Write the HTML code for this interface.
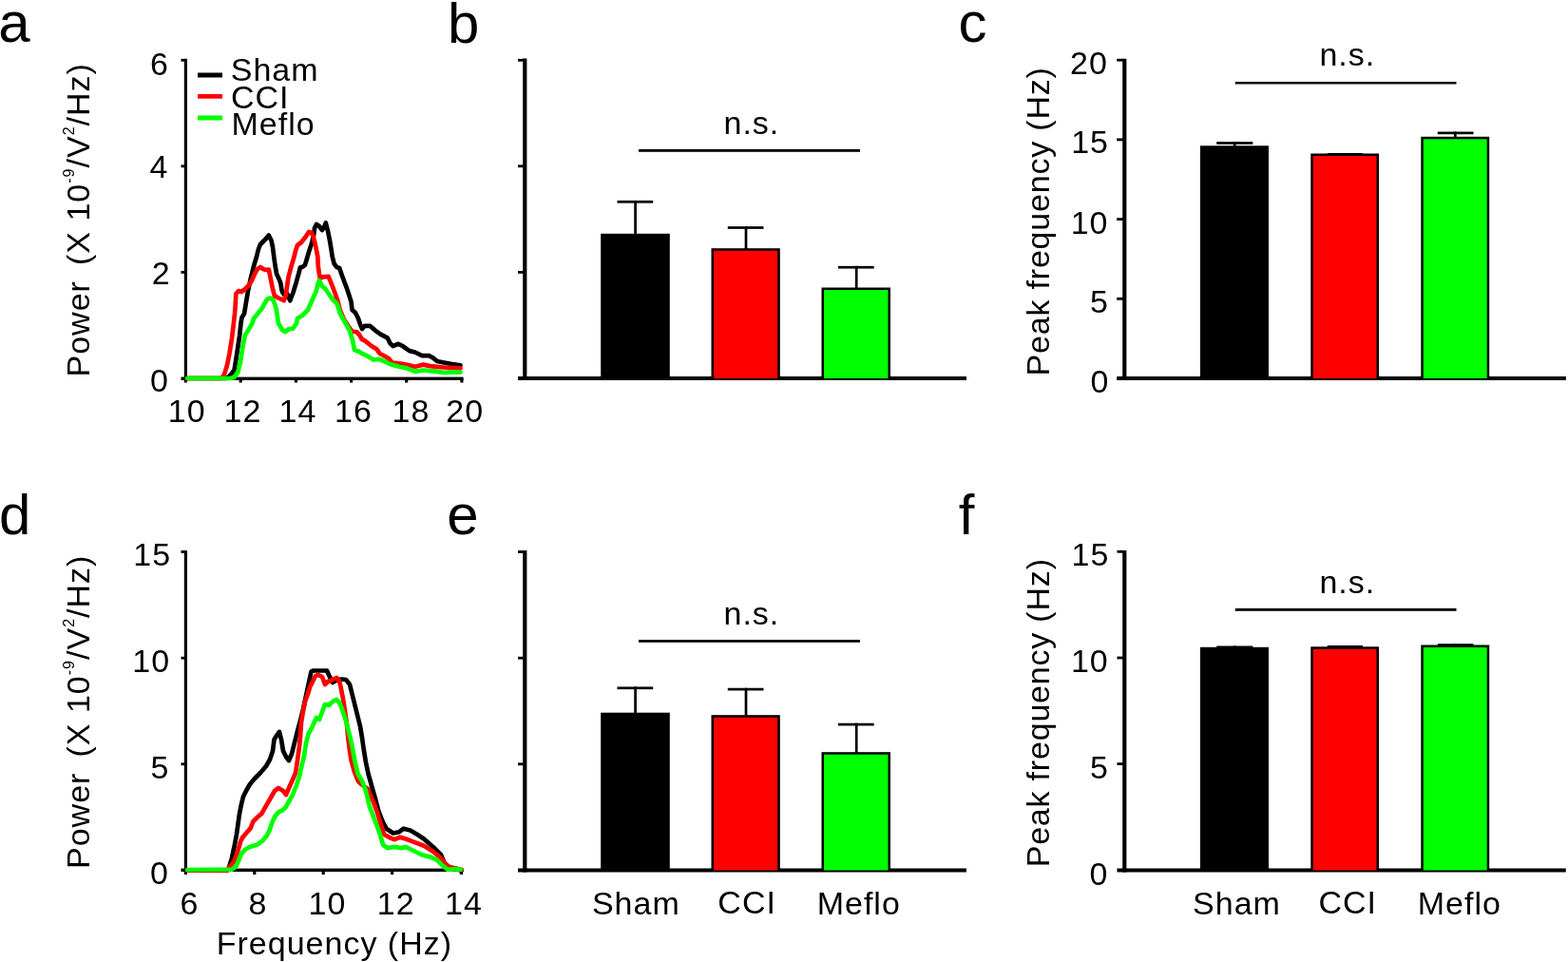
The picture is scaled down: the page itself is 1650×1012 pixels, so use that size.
<!DOCTYPE html>
<html><head><meta charset="utf-8"><title>Figure</title><style>html,body{margin:0;padding:0;background:#fff;overflow:hidden}svg{display:block}</style></head><body>
<svg width="1650" height="1012" viewBox="0 0 1650 1012" font-family="'Liberation Sans', Arial, Helvetica, sans-serif" fill="#000"><rect width="1650" height="1012" fill="#fff"/>
<rect x="193.8" y="61.8" width="3.2" height="340.7" fill="#000"/>
<rect x="190.5" y="61.9" width="4.5" height="2.8" fill="#000"/>
<rect x="190.5" y="173.4" width="4.5" height="2.8" fill="#000"/>
<rect x="190.5" y="285" width="4.5" height="2.8" fill="#000"/>
<rect x="190.5" y="396.6" width="297.1" height="3.3" fill="#000"/>
<rect x="251.6" y="398" width="3.2" height="4.5" fill="#000"/>
<rect x="309.8" y="398" width="3.2" height="4.5" fill="#000"/>
<rect x="368" y="398" width="3.2" height="4.5" fill="#000"/>
<rect x="426.1" y="398" width="3.2" height="4.5" fill="#000"/>
<rect x="484.3" y="398" width="3.2" height="4.5" fill="#000"/>
<rect x="208" y="76.5" width="26" height="5" fill="#000"/>
<rect x="208" y="99" width="26" height="4.7" fill="#f00"/>
<rect x="208" y="121.5" width="26" height="5" fill="#0f0"/>
<polyline points="197.0,398.0 238.0,398.0 241.5,395.6 246.5,389.3 248.4,377.9 250.3,365.3 252.2,352.6 253.5,340.0 254.5,334.0 257.0,330.0 259.0,318.0 261.0,306.0 264.0,292.0 267.0,280.0 270.0,270.0 272.0,262.0 274.0,257.0 277.0,254.0 280.0,251.0 282.8,247.5 285.5,253.0 287.0,260.0 288.5,272.0 289.5,279.0 291.0,287.9 293.8,293.9 295.4,298.3 296.5,305.3 297.6,308.0 300.0,311.0 302.5,309.5 305.2,316.2 308.4,308.0 311.7,297.2 314.4,287.4 315.9,281.4 318.9,280.4 320.9,278.9 322.4,274.0 325.0,265.0 328.0,256.0 330.0,248.0 331.0,240.0 333.0,236.0 336.0,238.0 339.0,242.0 341.0,239.0 342.8,234.5 345.0,243.0 347.0,253.0 349.0,265.0 349.7,270.0 351.7,277.5 354.2,280.9 357.2,281.9 359.6,288.9 362.1,295.8 364.6,302.3 367.1,309.8 369.6,317.7 370.5,326.0 374.0,329.0 377.0,335.0 379.0,341.0 381.0,346.0 383.6,342.9 389.5,342.9 394.5,347.3 400.4,351.6 407.6,355.3 410.5,361.1 413.5,364.0 419.3,361.8 423.6,364.0 430.9,369.1 436.7,370.5 444.0,374.2 451.3,374.2 455.6,376.4 460.0,380.0 467.3,381.5 474.5,382.9 484.5,384.4" fill="none" stroke="#000" stroke-width="4.7" stroke-linejoin="round" stroke-linecap="round"/>
<polyline points="197.0,398.0 233.0,398.0 235.8,394.4 239.0,384.2 241.5,371.6 244.0,355.8 245.9,340.0 247.0,330.0 247.8,320.0 248.3,309.0 251.0,306.0 254.0,307.0 258.0,304.0 262.0,300.0 265.0,295.0 268.0,288.0 271.0,283.0 274.0,281.0 277.0,283.0 280.0,284.0 282.9,283.6 284.5,291.7 286.7,302.6 288.9,311.3 293.2,313.5 298.7,316.2 300.8,310.8 301.9,302.6 303.5,291.7 306.3,280.9 309.5,270.0 311.0,264.0 313.0,258.0 317.0,255.0 321.0,250.0 325.0,244.0 328.0,245.0 330.0,250.0 332.0,258.0 334.3,270.0 334.8,280.0 335.8,287.4 336.8,292.9 339.8,291.4 345.7,290.9 347.7,295.8 349.7,300.8 352.7,308.8 355.2,316.2 358.0,327.0 362.0,336.0 367.0,344.0 371.0,349.0 375.0,349.0 378.0,352.0 381.0,357.0 383.6,358.2 390.9,364.0 396.7,367.6 399.6,372.0 404.0,374.2 409.0,377.1 412.7,381.5 417.8,382.2 423.6,382.9 430.9,384.4 436.7,385.8 445.5,383.6 452.7,385.1 460.0,385.8 467.3,386.5 484.5,387.3" fill="none" stroke="#f00" stroke-width="4.7" stroke-linejoin="round" stroke-linecap="round"/>
<polyline points="197.0,398.0 242.0,398.0 246.5,396.9 250.3,391.8 252.9,381.1 255.4,365.3 257.9,352.6 261.1,347.6 265.5,340.0 267.0,335.0 272.0,329.0 276.0,324.0 278.0,320.0 281.3,314.6 284.5,313.5 287.8,316.2 290.5,324.3 293.0,340.0 297.0,347.0 300.0,349.0 304.0,346.0 308.0,346.0 312.0,340.0 313.0,335.0 318.0,332.0 324.0,326.0 327.8,317.2 332.3,307.3 334.8,297.8 335.8,294.9 338.8,300.8 342.7,304.3 345.7,308.8 349.7,314.7 354.7,319.7 358.0,330.0 363.0,339.0 368.0,348.0 371.0,358.0 373.0,368.0 378.0,370.0 380.0,371.3 387.3,374.9 393.1,378.5 398.9,377.8 405.5,380.7 412.0,383.6 420.0,385.8 428.0,387.3 436.7,390.9 445.5,389.5 452.7,390.2 460.0,390.9 467.3,392.0 474.5,391.6 484.5,391.6" fill="none" stroke="#0f0" stroke-width="4.7" stroke-linejoin="round" stroke-linecap="round"/>
<g>
<rect x="193.8" y="579.2" width="3.2" height="340.8" fill="#000"/>
<rect x="190.5" y="579.1" width="4.5" height="2.8" fill="#000"/>
<rect x="190.5" y="690.8" width="4.5" height="2.8" fill="#000"/>
<rect x="190.5" y="802.4" width="4.5" height="2.8" fill="#000"/>
<rect x="190.5" y="913.6" width="297.1" height="3.4" fill="#000"/>
<rect x="266.2" y="915" width="3.2" height="5" fill="#000"/>
<rect x="338.6" y="915" width="3.2" height="5" fill="#000"/>
<rect x="411" y="915" width="3.2" height="5" fill="#000"/>
<rect x="483.8" y="915" width="3.2" height="5" fill="#000"/>
</g>
<polyline points="197.0,915.3 240.0,915.3 241.2,911.8 244.0,902.6 246.8,889.3 248.9,878.1 250.4,867.5 252.0,856.0 254.0,846.0 256.0,838.0 259.0,832.0 263.0,825.0 268.0,819.0 274.0,813.0 280.0,806.0 284.0,799.0 287.0,790.0 288.5,778.0 291.0,774.0 294.0,770.0 296.0,778.0 298.0,790.0 301.0,796.0 304.0,800.0 307.0,793.0 309.0,785.0 310.5,779.0 313.0,769.0 316.0,758.0 319.0,746.0 322.0,732.0 325.0,718.0 327.5,706.5 330.0,705.5 336.0,705.5 344.0,705.5 346.0,710.0 350.0,718.0 355.0,715.0 360.0,714.5 364.0,715.0 368.0,720.0 370.0,728.0 373.0,740.0 376.0,752.0 379.0,764.0 381.0,776.0 383.0,790.0 385.0,802.0 387.5,814.0 389.5,821.0 392.0,830.0 395.0,840.5 398.3,853.0 403.0,865.0 406.6,871.7 413.8,876.5 419.8,875.3 424.6,871.7 431.7,873.5 438.9,877.7 446.1,882.5 455.7,890.9 464.0,899.2 467.6,907.6 471.2,912.4 479.6,913.6 485.6,916.0" fill="none" stroke="#000" stroke-width="4.7" stroke-linejoin="round" stroke-linecap="round"/>
<polyline points="197.0,915.3 239.0,915.3 241.9,911.8 246.1,906.1 249.6,897.7 253.2,885.1 255.3,880.9 259.5,876.0 263.7,871.1 266.5,864.0 270.7,859.8 275.6,855.6 278.0,851.0 281.0,846.0 285.0,839.0 289.0,832.0 293.0,829.0 298.0,832.0 301.0,836.0 304.0,829.0 308.0,820.0 311.0,813.0 313.0,800.0 315.0,785.0 316.0,775.0 317.0,760.0 319.0,748.0 321.0,738.0 324.0,730.0 326.0,723.0 329.0,717.0 332.0,711.0 335.0,710.0 339.0,712.0 342.0,720.0 345.0,717.0 350.0,715.0 354.0,713.0 357.0,716.0 359.0,725.0 361.0,735.0 363.0,748.0 365.0,762.0 366.5,778.0 368.0,790.0 369.6,800.0 373.0,812.0 376.7,821.5 380.3,825.1 387.0,829.9 392.3,841.9 397.1,855.0 400.7,867.0 404.2,877.7 410.2,881.3 415.0,883.1 421.0,880.7 427.0,882.5 436.5,886.1 446.1,889.7 455.7,895.7 462.8,901.6 468.8,908.8 473.6,912.4 485.6,914.8" fill="none" stroke="#f00" stroke-width="4.7" stroke-linejoin="round" stroke-linecap="round"/>
<polyline points="197.0,915.0 244.0,914.6 248.2,911.8 251.1,905.4 253.9,898.4 258.1,893.5 263.7,890.7 270.7,888.6 276.3,884.4 280.5,879.5 284.0,872.5 286.8,864.0 289.6,858.4 293.2,854.2 296.7,852.8 300.0,850.0 303.0,845.0 308.0,836.0 312.0,826.0 315.0,817.0 317.0,808.0 320.0,795.0 322.0,782.0 324.5,772.0 328.0,766.0 331.0,759.0 333.0,755.0 336.0,757.0 339.0,749.0 342.0,741.0 346.0,742.0 350.0,738.0 354.0,736.0 357.0,739.0 360.0,746.0 363.0,755.0 366.0,766.0 369.0,778.0 371.5,790.0 373.2,800.0 376.7,814.3 381.5,822.7 385.1,832.3 388.7,847.8 392.3,857.4 395.9,867.0 399.5,876.5 403.0,888.5 407.8,892.1 415.0,890.9 422.2,892.1 427.0,890.9 434.1,894.5 443.7,899.2 453.3,901.6 460.4,905.2 466.4,911.2 471.2,914.8 479.6,914.2 485.0,914.8" fill="none" stroke="#0f0" stroke-width="4.7" stroke-linejoin="round" stroke-linecap="round"/>
<rect x="550.2" y="61.5" width="4.2" height="338.5" fill="#000"/>
<rect x="545" y="61.9" width="7.3" height="2.8" fill="#000"/>
<rect x="545" y="173.4" width="7.3" height="2.8" fill="#000"/>
<rect x="545" y="285" width="7.3" height="2.8" fill="#000"/>
<rect x="545" y="396" width="472" height="4" fill="#000"/>
<rect x="632.2" y="245.8" width="72.6" height="152.2" fill="#000"/>
<rect x="748.5" y="261.2" width="72.3" height="136.8" fill="#000"/>
<rect x="751" y="263.7" width="67.3" height="134.3" fill="#f00"/>
<rect x="864.5" y="302.5" width="72.5" height="95.5" fill="#000"/>
<rect x="867" y="305" width="67.5" height="93" fill="#0f0"/>
<rect x="667.25" y="210.95" width="2.7" height="35.85" fill="#000"/>
<rect x="649.5" y="210.95" width="37.7" height="2.7" fill="#000"/>
<rect x="783.65" y="238.15" width="2.7" height="24.05" fill="#000"/>
<rect x="765.8" y="238.15" width="37.7" height="2.7" fill="#000"/>
<rect x="899.85" y="279.85" width="2.7" height="23.65" fill="#000"/>
<rect x="882" y="279.85" width="37.7" height="2.7" fill="#000"/>
<rect x="672" y="157" width="233" height="2.8" fill="#000"/>
<rect x="550.2" y="579" width="4.2" height="338.5" fill="#000"/>
<rect x="545" y="579.1" width="7.3" height="2.8" fill="#000"/>
<rect x="545" y="690.8" width="7.3" height="2.8" fill="#000"/>
<rect x="545" y="802.4" width="7.3" height="2.8" fill="#000"/>
<rect x="545" y="913.5" width="472" height="4" fill="#000"/>
<rect x="632.2" y="749.7" width="72.6" height="165.8" fill="#000"/>
<rect x="748.5" y="752.2" width="72.3" height="163.3" fill="#000"/>
<rect x="751" y="754.7" width="67.3" height="160.8" fill="#f00"/>
<rect x="864.5" y="791.2" width="72.5" height="124.3" fill="#000"/>
<rect x="867" y="793.7" width="67.5" height="121.8" fill="#0f0"/>
<rect x="667.25" y="722.45" width="2.7" height="28.25" fill="#000"/>
<rect x="649.5" y="722.45" width="37.7" height="2.7" fill="#000"/>
<rect x="783.65" y="723.75" width="2.7" height="29.45" fill="#000"/>
<rect x="765.8" y="723.75" width="37.7" height="2.7" fill="#000"/>
<rect x="899.85" y="760.75" width="2.7" height="31.45" fill="#000"/>
<rect x="882" y="760.75" width="37.7" height="2.7" fill="#000"/>
<rect x="672" y="673" width="233" height="2.8" fill="#000"/>
<rect x="1181.2" y="61.8" width="4.2" height="338.2" fill="#000"/>
<rect x="1175.2" y="61.8" width="8.1" height="2.8" fill="#000"/>
<rect x="1175.2" y="145.5" width="8.1" height="2.8" fill="#000"/>
<rect x="1175.2" y="229.2" width="8.1" height="2.8" fill="#000"/>
<rect x="1175.2" y="312.9" width="8.1" height="2.8" fill="#000"/>
<rect x="1175.2" y="396" width="472.6" height="4" fill="#000"/>
<rect x="1263" y="153.3" width="72" height="244.7" fill="#000"/>
<rect x="1379.3" y="161.5" width="71.7" height="236.5" fill="#000"/>
<rect x="1381.8" y="164" width="66.7" height="234" fill="#f00"/>
<rect x="1495.3" y="143.8" width="71.9" height="254.2" fill="#000"/>
<rect x="1497.8" y="146.3" width="66.9" height="251.7" fill="#0f0"/>
<rect x="1297.85" y="149.15" width="2.7" height="5.15" fill="#000"/>
<rect x="1280.2" y="149.15" width="38.1" height="2.7" fill="#000"/>
<rect x="1413.85" y="161" width="2.7" height="1.5" fill="#000"/>
<rect x="1396.8" y="161" width="37.2" height="2.7" fill="#000"/>
<rect x="1529.95" y="138.55" width="2.7" height="6.25" fill="#000"/>
<rect x="1512.8" y="138.55" width="37.7" height="2.7" fill="#000"/>
<rect x="1299.8" y="86" width="232.7" height="2.5" fill="#000"/>
<rect x="1181.2" y="579" width="4.2" height="338.5" fill="#000"/>
<rect x="1175.5" y="578.9" width="7.8" height="2.8" fill="#000"/>
<rect x="1175.5" y="690.6" width="7.8" height="2.8" fill="#000"/>
<rect x="1175.5" y="802.2" width="7.8" height="2.8" fill="#000"/>
<rect x="1175.5" y="913.5" width="472.3" height="4" fill="#000"/>
<rect x="1263" y="680.8" width="72" height="234.7" fill="#000"/>
<rect x="1379.3" y="680.3" width="71.7" height="235.2" fill="#000"/>
<rect x="1381.8" y="682.8" width="66.7" height="232.7" fill="#f00"/>
<rect x="1495.3" y="678.5" width="71.9" height="237" fill="#000"/>
<rect x="1497.8" y="681" width="66.9" height="234.5" fill="#0f0"/>
<rect x="1297.85" y="679.5" width="2.7" height="2.3" fill="#000"/>
<rect x="1280.2" y="679.5" width="38.1" height="2.7" fill="#000"/>
<rect x="1413.85" y="679" width="2.7" height="2.3" fill="#000"/>
<rect x="1396.8" y="679" width="37.2" height="2.7" fill="#000"/>
<rect x="1529.95" y="677.2" width="2.7" height="2.3" fill="#000"/>
<rect x="1512.8" y="677.2" width="37.7" height="2.7" fill="#000"/>
<rect x="1299.8" y="640" width="232.7" height="2.8" fill="#000"/>
<text x="-1.75" y="44.25" font-size="60" letter-spacing="0">a</text>
<text x="470.9" y="44.75" font-size="60" letter-spacing="0">b</text>
<text x="1008.5" y="43.6" font-size="60" letter-spacing="0">c</text>
<text x="-1.05" y="561.85" font-size="60" letter-spacing="0">d</text>
<text x="470.15" y="561.5" font-size="60" letter-spacing="0">e</text>
<text x="1008.65" y="561.5" font-size="60" letter-spacing="0">f</text>
<text x="158" y="78.75" font-size="34" letter-spacing="1">6</text>
<text x="157.55" y="187.45" font-size="34" letter-spacing="1">4</text>
<text x="159.7" y="298.5" font-size="34" letter-spacing="1">2</text>
<text x="158" y="412.25" font-size="34" letter-spacing="1">0</text>
<text x="176.8" y="444.25" font-size="34" letter-spacing="1">10</text>
<text x="235.5" y="444.25" font-size="34" letter-spacing="1">12</text>
<text x="293.5" y="444.25" font-size="34" letter-spacing="1">14</text>
<text x="352" y="444.25" font-size="34" letter-spacing="1">16</text>
<text x="412.5" y="444.25" font-size="34" letter-spacing="1">18</text>
<text x="469.3" y="444.25" font-size="34" letter-spacing="1">20</text>
<text x="242.75" y="84.75" font-size="34" letter-spacing="1">Sham</text>
<text x="243" y="113.75" font-size="34" letter-spacing="1">CCI</text>
<text x="243.5" y="142.25" font-size="34" letter-spacing="1">Meflo</text>
<text x="761.5" y="140.5" font-size="34" letter-spacing="1">n.s.</text>
<text x="1388.4" y="69.2" font-size="34" letter-spacing="1">n.s.</text>
<text x="761.5" y="656.5" font-size="34" letter-spacing="1">n.s.</text>
<text x="1388.4" y="623.5" font-size="34" letter-spacing="1">n.s.</text>
<text x="1126.1" y="77.85" font-size="34" letter-spacing="1">20</text>
<text x="1127.2" y="161.4" font-size="34" letter-spacing="1">15</text>
<text x="1126.7" y="245.75" font-size="34" letter-spacing="1">10</text>
<text x="1146.9" y="329.4" font-size="34" letter-spacing="1">5</text>
<text x="1147.6" y="412.85" font-size="34" letter-spacing="1">0</text>
<text x="140.25" y="595.25" font-size="34" letter-spacing="1">15</text>
<text x="139.3" y="707.15" font-size="34" letter-spacing="1">10</text>
<text x="158.4" y="818.65" font-size="34" letter-spacing="1">5</text>
<text x="158" y="930.25" font-size="34" letter-spacing="1">0</text>
<text x="189.5" y="961.75" font-size="34" letter-spacing="1">6</text>
<text x="261.5" y="961.75" font-size="34" letter-spacing="1">8</text>
<text x="324.5" y="961.75" font-size="34" letter-spacing="1">10</text>
<text x="396.75" y="961.75" font-size="34" letter-spacing="1">12</text>
<text x="468" y="961.75" font-size="34" letter-spacing="1">14</text>
<text x="227.75" y="1003.75" font-size="34" letter-spacing="1">Frequency (Hz)</text>
<text x="1127.6" y="595.25" font-size="34" letter-spacing="1">15</text>
<text x="1126.9" y="706.75" font-size="34" letter-spacing="1">10</text>
<text x="1146.9" y="818.65" font-size="34" letter-spacing="1">5</text>
<text x="1146.5" y="930.75" font-size="34" letter-spacing="1">0</text>
<text x="622.9" y="962.1" font-size="34" letter-spacing="1">Sham</text>
<text x="755.35" y="961.3" font-size="34" letter-spacing="1">CCI</text>
<text x="859.7" y="962" font-size="34" letter-spacing="1">Meflo</text>
<text x="1255.1" y="962" font-size="34" letter-spacing="1">Sham</text>
<text x="1387.5" y="961.3" font-size="34" letter-spacing="1">CCI</text>
<text x="1491.8" y="962" font-size="34" letter-spacing="1">Meflo</text>
<text transform="translate(94.4,396.5) rotate(-90)" font-size="34" letter-spacing="1">Power <tspan dx="5.7">(X 10</tspan><tspan dy="-16.6" font-size="16">-9</tspan><tspan dy="16.6">/V</tspan><tspan dy="-16.6" font-size="16">2</tspan><tspan dy="16.6">/Hz)</tspan></text>
<text transform="translate(94.4,914) rotate(-90)" font-size="34" letter-spacing="1">Power <tspan dx="5.7">(X 10</tspan><tspan dy="-16.6" font-size="16">-9</tspan><tspan dy="16.6">/V</tspan><tspan dy="-16.6" font-size="16">2</tspan><tspan dy="16.6">/Hz)</tspan></text>
<text transform="translate(1103.8,395.4) rotate(-90)" font-size="34" letter-spacing="0.8">Peak frequency (Hz)</text>
<text transform="translate(1103.8,912.35) rotate(-90)" font-size="34" letter-spacing="0.8">Peak frequency (Hz)</text></svg>
</body></html>
